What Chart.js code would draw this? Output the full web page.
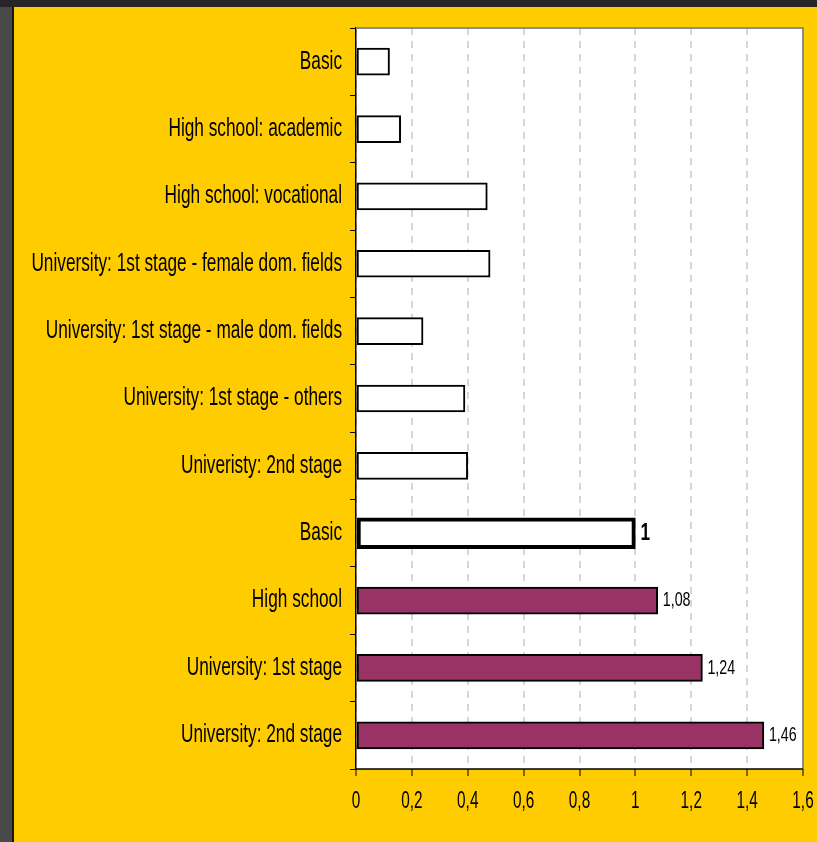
<!DOCTYPE html>
<html>
<head>
<meta charset="utf-8">
<script src="https://cdn.jsdelivr.net/npm/chart.js@4/dist/chart.umd.min.js"></script>
<style>
    body { margin: 0; background: #262626; }
    #frame { position: absolute; left: 0; top: 0; width: 817px; height: 842px; background: #262626; }
    #leftStrip { position: absolute; left: 0; top: 7px; width: 12px; height: 835px; background: #484848; border-right: 2px solid #161616; }
    #panel { position: absolute; left: 14px; top: 7px; width: 803px; height: 835px; background: #ffcc00; }
</style>
</head>
<body>
<div id="frame">
    <div id="leftStrip"></div>
    <div id="panel"><canvas id="myChart" width="803" height="835"></canvas></div>
</div>
<script>
const categories = [
    "Basic",
    "High school: academic",
    "High school: vocational",
    "University: 1st stage - female dom. fields",
    "University: 1st stage - male dom. fields",
    "University: 1st stage - others",
    "Univeristy: 2nd stage",
    "Basic",
    "High school",
    "University: 1st stage",
    "University: 2nd stage"
];
const values = [0.12, 0.16, 0.47, 0.48, 0.24, 0.39, 0.40, 1, 1.08, 1.24, 1.46];
const refIndex = 7;
const xTicks = [0, 0.2, 0.4, 0.6, 0.8, 1, 1.2, 1.4, 1.6];

const fontName = "'Liberation Sans', Arial, sans-serif";
const purple = "#993366";

function fmt(v) {
    return String(Number(v.toFixed(2))).replace(".", ",");
}

// narrow text: draw with a horizontal squeeze, like Arial Narrow
function narrowText(ctx, text, x, y, font, sx, align) {
    ctx.save();
    ctx.font = font;
    ctx.textBaseline = "middle";
    ctx.textAlign = align;
    ctx.translate(x, y);
    ctx.scale(sx, 1);
    ctx.fillText(text, 0, 0);
    ctx.restore();
}

const otherData = values.map((v, i) => i === refIndex ? null : v);
const refData = values.map((v, i) => i === refIndex ? v : null);

const plotFrame = {
    id: "plotFrame",
    beforeDraw(chart) {
        const a = chart.chartArea;
        const ctx = chart.ctx;
        ctx.save();
        ctx.fillStyle = "#ffffff";
        ctx.fillRect(a.left, a.top, a.right - a.left, a.bottom - a.top);
        ctx.restore();
    },
    beforeDatasetsDraw(chart) {
        const a = chart.chartArea;
        const ctx = chart.ctx;
        ctx.save();
        ctx.strokeStyle = "#8c8c8c";
        ctx.lineWidth = 2;
        ctx.beginPath();
        ctx.moveTo(a.left, a.top);
        ctx.lineTo(a.right, a.top);
        ctx.lineTo(a.right, a.bottom);
        ctx.stroke();
        ctx.strokeStyle = "#000000";
        ctx.lineWidth = 1.5;
        ctx.beginPath();
        ctx.moveTo(a.left, a.bottom);
        ctx.lineTo(a.right, a.bottom);
        ctx.stroke();
        ctx.restore();
    },
    afterDatasetsDraw(chart) {
        const ctx = chart.ctx;
        ctx.fillStyle = "#000";
        chart.data.datasets.forEach((ds, d) => {
            chart.getDatasetMeta(d).data.forEach((bar, i) => {
                const v = ds.data[i];
                if (v === null || i < refIndex) return;
                if (i === refIndex) {
                    narrowText(ctx, fmt(v), bar.x + 5, bar.y, "bold 23px " + fontName, 0.75, "left");
                } else {
                    narrowText(ctx, fmt(v), bar.x + 5, bar.y, "21px " + fontName, 0.68, "left");
                }
            });
        });
    },
    afterDraw(chart) {
        const ctx = chart.ctx;
        const xs = chart.scales.x;
        const ys = chart.scales.y;
        ctx.fillStyle = "#000";
        categories.forEach((c, i) => {
            narrowText(ctx, c, ys.right - 14, ys.getPixelForValue(i), "25px " + fontName, 0.69, "right");
        });
        xTicks.forEach(v => {
            narrowText(ctx, fmt(v), xs.getPixelForValue(v), xs.top + 32, "24px " + fontName, 0.64, "center");
        });
    }
};

const chartCanvas = document.getElementById("myChart").getContext("2d");
const myChart = new Chart(chartCanvas, {
    type: "bar",
    data: {
        labels: categories,
        datasets: [{
            data: otherData,
            grouped: false,
            barThickness: 27,
            backgroundColor: values.map((v, i) => i > refIndex ? purple : "#ffffff"),
            borderColor: "#000000",
            borderWidth: 2,
            borderSkipped: false
        }, {
            data: refData,
            grouped: false,
            barThickness: 31,
            backgroundColor: "#ffffff",
            borderColor: "#000000",
            borderWidth: 4,
            borderSkipped: false
        }]
    },
    options: {
        indexAxis: "y",
        responsive: false,
        animation: false,
        layout: { padding: { top: 21, right: 14, left: 0, bottom: 0 } },
        plugins: {
            legend: { display: false },
            tooltip: { enabled: false }
        },
        scales: {
            x: {
                min: 0,
                max: 1.6,
                afterBuildTicks(scale) {
                    scale.ticks = xTicks.map(v => ({ value: v }));
                },
                afterFit(scale) {
                    scale.height = 73;
                    scale.paddingLeft = 0;
                    scale.paddingRight = 0;
                },
                grid: {
                    color: "#d6d6d6",
                    lineWidth: 2,
                    tickBorderDash: [],
                    tickColor: "#000000",
                    tickWidth: 1,
                    tickLength: 7
                },
                border: { display: false, dash: [7, 6] },
                ticks: {
                    color: "rgba(0,0,0,0)",
                    padding: 12,
                    maxRotation: 0,
                    font: { family: fontName, size: 12 },
                    callback: (v) => fmt(v)
                }
            },
            y: {
                afterFit(scale) {
                    scale.width = 342;
                    scale.paddingTop = 0;
                    scale.paddingBottom = 0;
                },
                grid: {
                    offset: true,
                    drawOnChartArea: false,
                    tickColor: "#000000",
                    tickLength: 6,
                    tickWidth: 1
                },
                border: { color: "#000000", width: 1.5 },
                ticks: {
                    color: "rgba(0,0,0,0)",
                    padding: 8,
                    font: { family: fontName, size: 12 }
                }
            }
        }
    },
    plugins: [plotFrame]
});
</script>
</body>
</html>
